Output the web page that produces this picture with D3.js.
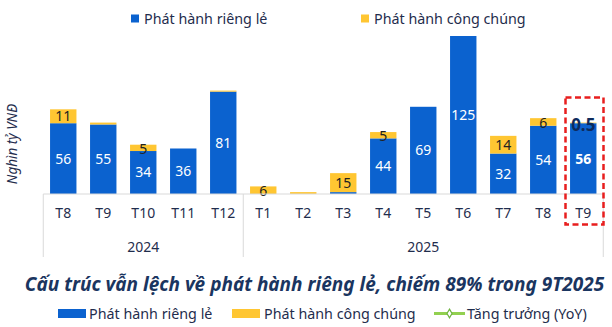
<!DOCTYPE html>
<html><head><meta charset="utf-8">
<script src="https://cdn.jsdelivr.net/npm/d3@7"></script>
<style>body{margin:0;background:#fff}svg{display:block}</style>
</head><body><div id="c"></div>
<script>
const months = ["T8","T9","T10","T11","T12","T1","T2","T3","T4","T5","T6","T7","T8","T9"];
const years = ["2024","2024","2024","2024","2024","2025","2025","2025","2025","2025","2025","2025","2025","2025"];
const yearGroups = [{year:"2024", from:0, to:4},{year:"2025", from:5, to:13}];
const privateVals = [56,55,34,36,81,0,0,1.5,44,69,125,32,54,56];
const publicVals  = [11,1.5,5,0,0.8,6,1.5,15,5,0,0,14,6,0.5];
const privateLabels = ["56","55","34","36","81","","","","44","69","125","32","54","56"];
const publicLabels  = ["11","","5","","","6","","15","5","","","14","6","0.5"];
const seriesNames = ["Phát hành riêng lẻ","Phát hành công chúng","Tăng trưởng (YoY)"];
const titleText = "Cấu trúc vẫn lệch về phát hành riêng lẻ, chiếm 89% trong 9T2025";
const yLabel = "Nghìn tỷ VNĐ";

const W=612,H=327;
const BLUE="#0B62CF", YEL="#FFC632", NAVY="#1F2D4D", GREEN="#92D050";
const FONT="'Noto Sans', 'Open Sans', sans-serif";
const svg=d3.select("#c").append("svg").attr("width",W).attr("height",H).style("font-family",FONT);

const idx=d3.range(months.length);
const x=d3.scaleBand().domain(idx).range([43.25,603.25]).paddingInner(0.34).paddingOuter(0.17);
const y=d3.scaleLinear().domain([0,125]).range([194,36]);

// bars
const g=svg.append("g");
g.selectAll("rect.p").data(idx).join("rect")
  .attr("x",i=>x(i)).attr("width",x.bandwidth())
  .attr("y",i=>y(privateVals[i])).attr("height",i=>y(0)-y(privateVals[i]))
  .attr("fill",BLUE);
g.selectAll("rect.u").data(idx).join("rect")
  .attr("x",i=>x(i)).attr("width",x.bandwidth())
  .attr("y",i=>y(privateVals[i]+publicVals[i])).attr("height",i=>y(privateVals[i])-y(privateVals[i]+publicVals[i]))
  .attr("fill",YEL);

// labels
g.selectAll("text.p").data(idx.filter(i=>privateLabels[i])).join("text")
  .attr("x",i=>x(i)+x.bandwidth()/2).attr("y",i=>(y(0)+y(privateVals[i]))/2)
  .attr("dy","0.35em").attr("text-anchor","middle").attr("fill","#fff").attr("font-size",14)
  .attr("font-weight",i=>i===13?"bold":"normal")
  .text(i=>privateLabels[i]);
g.selectAll("text.u").data(idx.filter(i=>publicLabels[i] && i!==13)).join("text")
  .attr("x",i=>x(i)+x.bandwidth()/2).attr("y",i=>(y(privateVals[i])+y(privateVals[i]+publicVals[i]))/2 + (publicVals[i]<7?1:0))
  .attr("dy","0.35em").attr("text-anchor","middle").attr("fill","#222").attr("font-size",14)
  .text(i=>publicLabels[i]);
// special 0.5 label
g.append("text").attr("x",x(13)+x.bandwidth()/2).attr("y",y(privateVals[13])+1.5).attr("dy","0.35em")
  .attr("text-anchor","middle").attr("fill","#0E2A5C").attr("font-size",17).attr("font-weight","bold")
  .text(publicLabels[13]);

// axis
const xa=d3.axisBottom(x).tickFormat(i=>months[i]).tickSize(0).tickPadding(14);
const ax=svg.append("g").attr("transform","translate(0,194)").call(xa);
ax.select(".domain").attr("stroke","#d9d9d9").attr("stroke-width",1).attr("d","M43.25,0H603.25");
ax.selectAll("text").attr("font-size",14).attr("fill",NAVY).attr("font-family",FONT);
// separators
const seps=[x(0)-x.step()*0.17, x(5)-x.step()*0.17, x(13)+x.bandwidth()+x.step()*0.17];
svg.selectAll("line.sep").data(seps).join("line").attr("x1",d=>d).attr("x2",d=>d).attr("y1",194).attr("y2",257)
  .attr("stroke","#d9d9d9").attr("stroke-width",1);
svg.selectAll("text.yr").data(yearGroups).join("text")
  .attr("x",d=>(x(d.from)+x(d.to)+x.bandwidth())/2).attr("y",247).attr("dy","0.35em")
  .attr("text-anchor","middle").attr("font-size",14).attr("fill",NAVY).text(d=>d.year);

// highlight box
svg.append("rect").attr("x",565.5).attr("y",97.5).attr("width",38).attr("height",127)
  .attr("fill","none").attr("stroke","#E81E1E").attr("stroke-width",2.5).attr("stroke-dasharray","6,3.5");

// y label
svg.append("text").attr("transform","translate(12,144) rotate(-90)").attr("dy","0.35em")
  .attr("text-anchor","middle").attr("font-size",13.5).attr("font-style","italic").attr("fill",NAVY).text(yLabel);

// top legend
const tl=[{x:131,c:BLUE,t:seriesNames[0]},{x:361,c:YEL,t:seriesNames[1]}];
tl.forEach(d=>{
  svg.append("rect").attr("x",d.x).attr("y",14.5).attr("width",8).attr("height",8).attr("fill",d.c);
  svg.append("text").attr("x",d.x+13).attr("y",19).attr("dy","0.35em").attr("font-size",14.3).attr("fill",NAVY).text(d.t);
});

// title
svg.append("text").attr("x",314.5).attr("y",284).attr("dy","0.35em").attr("text-anchor","middle")
  .attr("font-size",19).attr("font-weight","bold").attr("font-style","italic").attr("fill","#1A3560").text(titleText);

// bottom legend
svg.append("rect").attr("x",58).attr("y",309).attr("width",28).attr("height",9).attr("fill",BLUE);
svg.append("text").attr("x",89).attr("y",313.5).attr("dy","0.35em").attr("font-size",14.3).attr("fill",NAVY).text(seriesNames[0]);
svg.append("rect").attr("x",232).attr("y",309).attr("width",28).attr("height",9).attr("fill",YEL);
svg.append("text").attr("x",264).attr("y",313.5).attr("dy","0.35em").attr("font-size",14.3).attr("fill",NAVY).text(seriesNames[1]);
svg.append("line").attr("x1",434).attr("x2",465).attr("y1",313.5).attr("y2",313.5).attr("stroke",GREEN).attr("stroke-width",3);
svg.append("path").attr("d",d3.symbol(d3.symbolDiamond,22)()).attr("transform","translate(449.5,313.5)")
  .attr("fill","#fff").attr("stroke","#6DB33F").attr("stroke-width",1.2);
svg.append("text").attr("x",467).attr("y",313.5).attr("dy","0.35em").attr("font-size",14.3).attr("fill",NAVY).text(seriesNames[2]);
</script></body></html>
